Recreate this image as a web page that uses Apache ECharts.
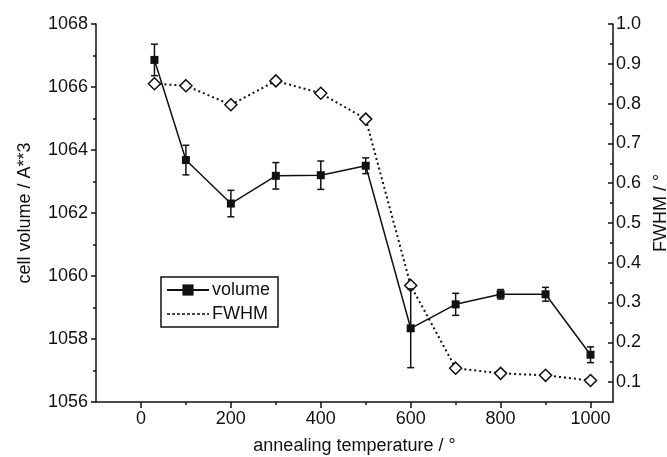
<!DOCTYPE html>
<html>
<head>
<meta charset="utf-8">
<script src="https://cdn.jsdelivr.net/npm/echarts@6/dist/echarts.min.js"></script>
<style>
html,body{margin:0;padding:0;background:#fff;}
#c{width:667px;height:457px;}
</style>
</head>
<body>
<div id="c"></div>
<script>
// ---- data ----
var temps = [30, 100, 200, 300, 400, 500, 600, 700, 800, 900, 1000];
var volume = [1066.86, 1063.68, 1062.3, 1063.18, 1063.2, 1063.5, 1058.34, 1059.1, 1059.42, 1059.42, 1057.5];
var volumeErr = [0.5, 0.47, 0.42, 0.42, 0.45, 0.25, 1.25, 0.35, 0.15, 0.22, 0.25];
var fwhm = [0.85, 0.845, 0.797, 0.857, 0.826, 0.761, 0.343, 0.135, 0.122, 0.117, 0.104];
var xMajorTicks = [0, 200, 400, 600, 800, 1000];
var xMinorTicks = [100, 300, 500, 700, 900];
var rightMajorTicks = [0.1, 0.2, 0.3, 0.4, 0.5, 0.6, 0.7, 0.8, 0.9, 1.0];
var rightMinorTicks = [0.15, 0.25, 0.35, 0.45, 0.55, 0.65, 0.75, 0.85, 0.95];

var FONT = 'Liberation Sans, Arial, sans-serif';
var TXT = '#111';

var volPairs = temps.map(function (t, i) { return [t, volume[i]]; });
var fwhmPairs = temps.map(function (t, i) { return [t, fwhm[i]]; });
var errData = temps.map(function (t, i) { return [t, volume[i] - volumeErr[i], volume[i] + volumeErr[i]]; });

var chart = echarts.init(document.getElementById('c'), null, {renderer: 'canvas'});
var lbl = {fontFamily: FONT, fontSize: 18, color: TXT};
var AX = {color: '#111', width: 1.5};

chart.setOption({
  backgroundColor: '#fff',
  animation: false,
  grid: {left: 96, right: 54, top: 24, bottom: 55, containLabel: false, outerBoundsMode: 'none'},
  legend: {
    orient: 'vertical',
    left: 161, top: 277,
    padding: [4, 8, 4, 5],
    itemGap: 6,
    itemWidth: 42, itemHeight: 14,
    borderColor: '#111', borderWidth: 1.5, borderRadius: 0,
    textStyle: {fontFamily: FONT, fontSize: 18, color: TXT, padding: [0, 0, 0, -2]},
    data: [
      {name: 'volume'},
      {name: 'FWHM', itemStyle: {opacity: 0}, lineStyle: {type: [3, 2], width: 1.5}}
    ]
  },
  xAxis: [{
    type: 'value', position: 'bottom', min: -100, max: 1050,
    name: 'annealing temperature / \u00b0', nameLocation: 'middle', nameGap: 35,
    nameTextStyle: lbl,
    axisLine: {show: true, onZero: false, lineStyle: AX},
    axisTick: {show: true, inside: false, length: 6, lineStyle: AX, customValues: xMajorTicks},
    axisLabel: Object.assign({margin: 8, customValues: xMajorTicks, formatter: function (v) { return String(v); }}, lbl),
    splitLine: {show: false}
  }, {
    type: 'value', position: 'bottom', min: -100, max: 1050,
    axisLine: {show: false, onZero: false},
    axisTick: {show: true, inside: false, length: 3, lineStyle: AX, customValues: xMinorTicks},
    axisLabel: {show: false, customValues: xMinorTicks},
    splitLine: {show: false}
  }],
  yAxis: [{
    type: 'value', position: 'left', min: 1056, max: 1068, interval: 2,
    name: 'cell volume / A**3', nameLocation: 'middle', nameGap: 62, nameRotate: 90,
    nameTextStyle: lbl,
    axisLine: {show: true, onZero: false, lineStyle: AX},
    axisTick: {show: true, inside: false, length: 5, lineStyle: AX},
    minorTick: {show: true, splitNumber: 2, length: 3, lineStyle: AX},
    axisLabel: Object.assign({margin: 8, formatter: function (v) { return String(v); }}, lbl),
    splitLine: {show: false}
  }, {
    type: 'value', position: 'right', min: 0.05, max: 1.0,
    name: 'FWHM / \u00b0', nameLocation: 'middle', nameGap: 38, nameRotate: 90,
    nameTextStyle: lbl,
    axisLine: {show: true, onZero: false, lineStyle: AX},
    axisTick: {show: true, inside: true, length: 5, lineStyle: AX, customValues: rightMajorTicks},
    axisLabel: Object.assign({margin: 3, customValues: rightMajorTicks, formatter: function (v) { return v.toFixed(1); }}, lbl),
    splitLine: {show: false}
  }, {
    type: 'value', position: 'right', min: 0.05, max: 1.0,
    axisLine: {show: false, onZero: false},
    axisTick: {show: true, inside: true, length: 3, lineStyle: AX, customValues: rightMinorTicks},
    axisLabel: {show: false, customValues: rightMinorTicks},
    splitLine: {show: false}
  }],
  series: [{
    name: 'volume', type: 'line', xAxisIndex: 0, yAxisIndex: 0,
    data: volPairs,
    symbol: 'rect', symbolSize: 8,
    lineStyle: {color: '#111', width: 1.5},
    itemStyle: {color: '#111'},
    z: 3
  }, {
    name: 'FWHM', type: 'line', xAxisIndex: 0, yAxisIndex: 1,
    data: fwhmPairs,
    symbol: 'diamond', symbolSize: 12,
    lineStyle: {color: '#111', width: 2, type: [2, 3]},
    itemStyle: {color: '#fff', borderColor: '#111', borderWidth: 1.5},
    z: 4
  }, {
    name: 'volErr', type: 'custom', xAxisIndex: 0, yAxisIndex: 0,
    data: errData,
    z: 5,
    renderItem: function (params, api) {
      var x = api.value(0);
      var lo = api.coord([x, api.value(1)]);
      var hi = api.coord([x, api.value(2)]);
      var w = 3.5;
      var st = {stroke: '#111', lineWidth: 1.5};
      return {
        type: 'group',
        children: [
          {type: 'line', shape: {x1: hi[0], y1: hi[1], x2: lo[0], y2: lo[1]}, style: st},
          {type: 'line', shape: {x1: hi[0] - w, y1: hi[1], x2: hi[0] + w, y2: hi[1]}, style: st},
          {type: 'line', shape: {x1: lo[0] - w, y1: lo[1], x2: lo[0] + w, y2: lo[1]}, style: st}
        ]
      };
    }
  }]
});
</script>
</body>
</html>
